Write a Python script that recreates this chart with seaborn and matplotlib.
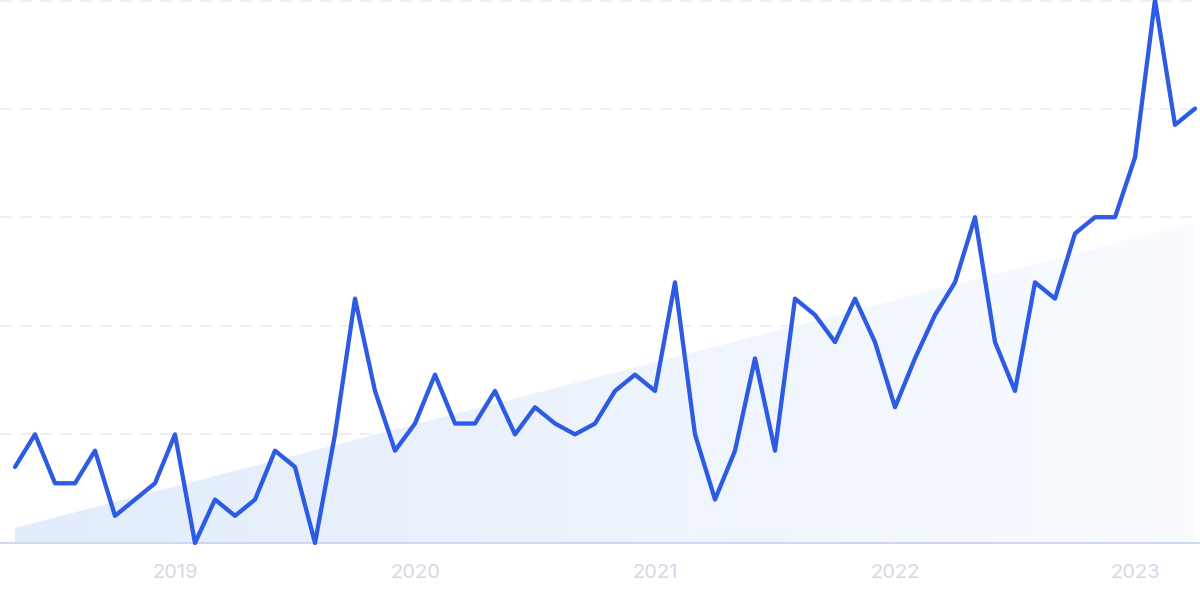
import numpy as np
import pandas as pd
import seaborn as sns
import matplotlib.pyplot as plt
from matplotlib.patches import Polygon

# ------------------------------------------------------------------
# data: monthly search interest, May 2018 .. Apr 2023
# ------------------------------------------------------------------
months = pd.date_range("2018-05-01", periods=60, freq="MS").strftime("%Y-%m").tolist()
interest = [14, 20, 11, 11, 17, 5, 8, 11, 20, 0,
            8, 5, 8, 17, 14, 0, 20, 45, 28, 17,
            22, 31, 22, 22, 28, 20, 25, 22, 20, 22,
            28, 31, 28, 48, 20, 8, 17, 34, 17, 45,
            42, 37, 45, 37, 25, 34, 42, 48, 60, 37,
            28, 48, 45, 57, 60, 60, 71, 100, 77, 80]
trend_ends = [2.8, 59]          # light trend wedge, first and last month
year_labels = ["2019", "2020", "2021", "2022", "2023"]
year_months = ["2019-01", "2020-01", "2021-01", "2022-01", "2023-01"]

df = pd.DataFrame({"month": months, "interest": interest})
df["idx"] = np.arange(len(df))

sns.set_theme(style="white")
plt.rcParams["font.family"] = ["Inter", "DejaVu Sans"]

fig = plt.figure(figsize=(12, 6), dpi=100)
ax = fig.add_axes([0, 0, 1, 1])

x0, x1 = df["idx"].iloc[0], df["idx"].iloc[-1]

# gradient trend wedge
wedge = Polygon([(x0, 0), (x0, trend_ends[0]), (x1, trend_ends[1]), (x1, 0)],
                closed=True, facecolor="none", edgecolor="none")
ax.add_patch(wedge)
grad = np.linspace(0, 1, 256).reshape(1, -1)
c_left = np.array([226, 236, 251]) / 255
c_right = np.array([249, 251, 255]) / 255
img = c_left[None, None, :] * (1 - grad[..., None]) + c_right[None, None, :] * grad[..., None]
im = ax.imshow(img, extent=[x0, x1, 0, trend_ends[1]], aspect="auto",
               origin="lower", zorder=1)
im.set_clip_path(wedge)

# dashed gridlines
for v in [20, 40, 60, 80, 99.8]:
    ax.axhline(v, color="#ececf0", lw=1.2, ls=(0, (7, 5)), zorder=0)
ax.plot([x0 - 0.75, x1 + 0.25], [0, 0], color="#cdd8f3", lw=1.5, zorder=2)

sns.lineplot(data=df, x="idx", y="interest", ax=ax, color="#2d5be3",
             linewidth=3.1, zorder=3)

ax.set_xlim(-0.75, 59.25)
ax.set_ylim(-10.5, 100)
ax.set_xlabel("")
ax.set_ylabel("")
ax.set_xticks([])
ax.set_yticks([])
for s in ax.spines.values():
    s.set_visible(False)

for lab, m in zip(year_labels, year_months):
    ax.text(months.index(m), -5.6, lab, ha="center", va="center",
            fontsize=14.5, color="#d3d6e8")

fig.savefig("out.png", dpi=100)
print("Saved out.png")
